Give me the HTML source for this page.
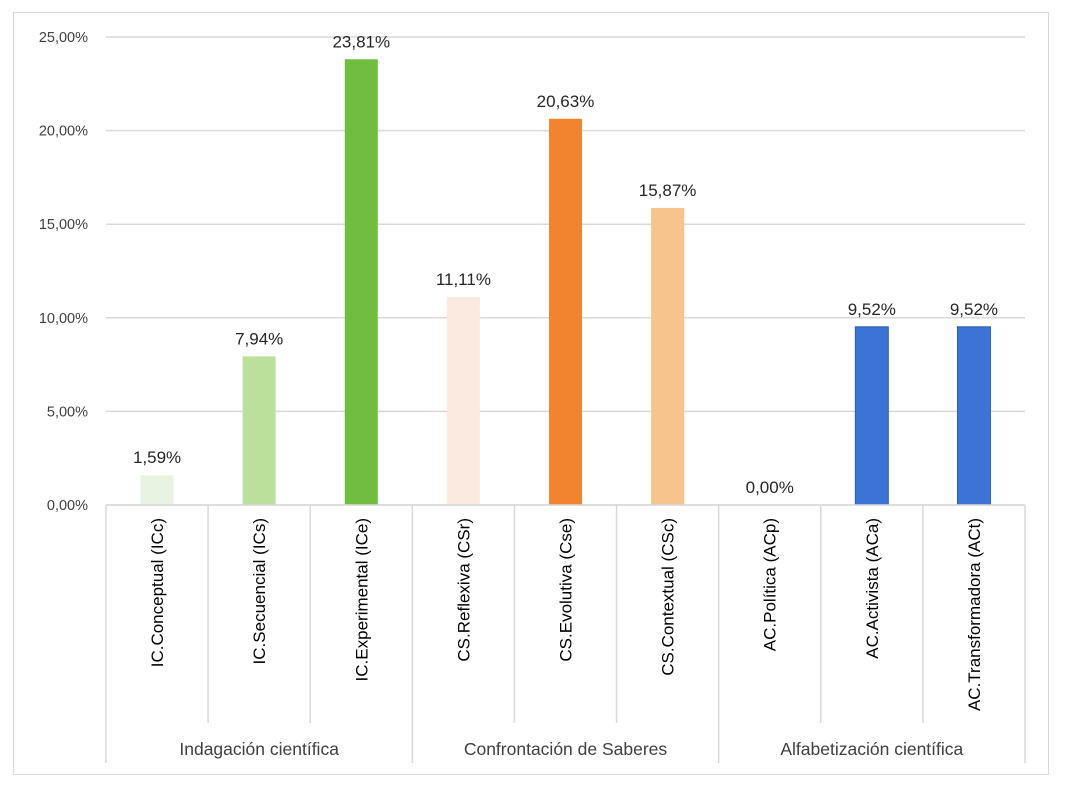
<!DOCTYPE html>
<html><head><meta charset="utf-8"><style>
body{margin:0;background:#fff;}
svg{display:block;font-family:"Liberation Sans",Calibri,sans-serif;}
</style></head><body>
<svg id="c" width="1066" height="790">
<rect x="13.5" y="12.5" width="1035" height="762" fill="#fff" stroke="#d9d9d9"/>
</svg>
<script>
const categories=["IC.Conceptual (ICc)","IC.Secuencial (ICs)","IC.Experimental (ICe)","CS.Reflexiva (CSr)","CS.Evolutiva (Cse)","CS.Contextual (CSc)","AC.Política (ACp)","AC.Activista (ACa)","AC.Transformadora (ACt)"];
const values=[1.59,7.94,23.81,11.11,20.63,15.87,0.00,9.52,9.52];
const valueLabels=["1,59%","7,94%","23,81%","11,11%","20,63%","15,87%","0,00%","9,52%","9,52%"];
const colors=["#e9f3e2","#bbe09c","#70bd40","#fbeadf","#f28430","#f8c48d","#3d73d4","#3d73d4","#3d73d4"];
const groups=["Indagación científica","Confrontación de Saberes","Alfabetización científica"];
const ticks=[0,5,10,15,20,25];
const tickLabels=["0,00%","5,00%","10,00%","15,00%","20,00%","25,00%"];
const svg=document.getElementById('c');const NS='http://www.w3.org/2000/svg';
const x0=106,x1=1025,y0=505,yTop=37,max=25;
const bw=(x1-x0)/categories.length;
const y=v=>y0-(v/max)*(y0-yTop);
const xc=i=>x0+bw*(i+0.5);
function mk(t,a,txt){const e=document.createElementNS(NS,t);for(const k in a)e.setAttribute(k,a[k]);if(txt!=null)e.textContent=txt;svg.appendChild(e);return e;}
ticks.forEach((t,i)=>{
 const g=mk('line',{x1:x0,x2:x1,y1:y(t),y2:y(t),stroke:'#d9d9d9','stroke-width':1.5});
 
 
 const l=mk('text',{x:88,y:y(t)+5,'text-anchor':'end','font-size':14.5,fill:'#404040'},tickLabels[i]);
 
 
});
values.forEach((v,i)=>{
 const b=mk('rect',{x:xc(i)-16.5,y:y(v),width:33,height:y0-y(v),fill:colors[i],stroke:i>=6?'#2f5fb8':'none','stroke-width':1});
 
 
 const t=mk('text',{x:xc(i),y:y(v)-12,'text-anchor':'middle','font-size':17,fill:'#262626'},valueLabels[i]);
 
 
 const c=mk('text',{transform:`translate(${xc(i)+6},518) rotate(-90)`,'text-anchor':'end','font-size':17,fill:'#000'},categories[i]);
 
 
});
for(let i=0;i<=categories.length;i++){
 const s=mk('line',{x1:x0+bw*i,x2:x0+bw*i,y1:y0,y2:(i%3==0)?763:723,stroke:'#d9d9d9','stroke-width':1.5});
 
 
}
groups.forEach((g,i)=>{
 const t=mk('text',{x:x0+bw*(3*i+1.5),y:755,'text-anchor':'middle','font-size':17.5,fill:'#404040'},g);
 
 
});
const ax=mk('line',{x1:x0,x2:x1,y1:y0,y2:y0,stroke:'#d9d9d9','stroke-width':1.5});


</script>
</body></html>
